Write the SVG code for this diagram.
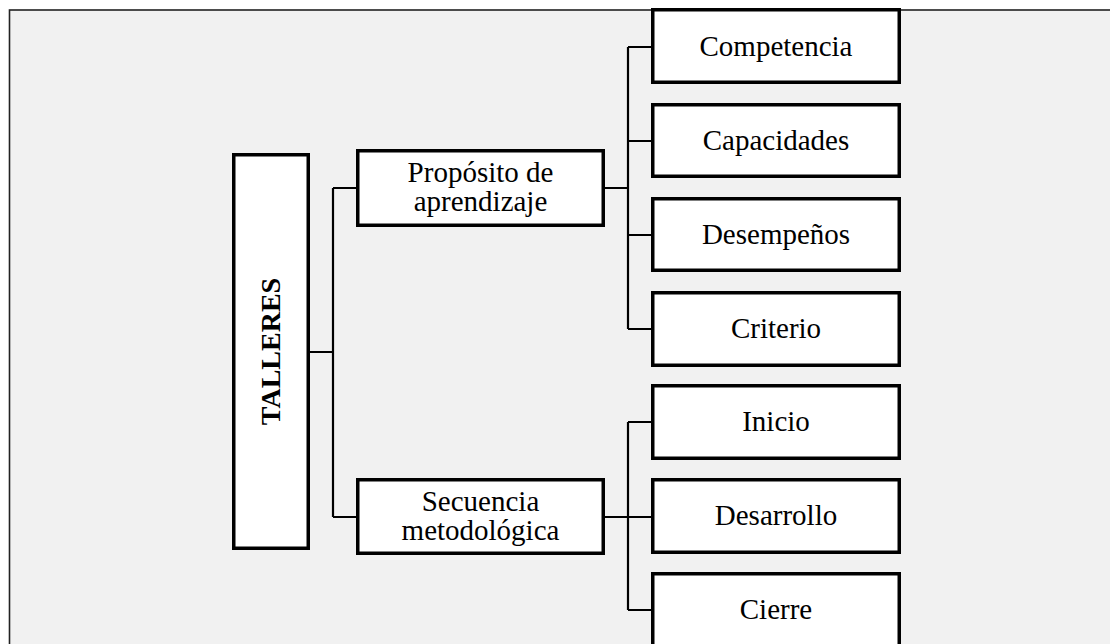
<svg xmlns="http://www.w3.org/2000/svg" width="1110" height="644" viewBox="0 0 1110 644">
<style>
.box{fill:#ffffff;stroke:#000000;stroke-width:3.5}
.ln{fill:none;stroke:#000000;stroke-width:2.2}
text{font-family:'Liberation Serif',serif;fill:#000000;text-anchor:middle}
.t{font-size:29px;font-weight:normal}
.tb{font-size:28px;font-weight:bold}
</style>
<rect x="0" y="0" width="1110" height="644" fill="#ffffff"/>
<rect x="9.5" y="10" width="1110" height="650" fill="#f1f1f1" stroke="#222222" stroke-width="1.6"/>
<g id="connectors">
<path class="ln" d="M310 352 H333 M333 188 V517 M333 188 H356 M333 517 H356"/>
<path class="ln" d="M605 188 H628 M628 47 V329 M628 47 H651 M628 141 H651 M628 235 H651 M628 329 H651"/>
<path class="ln" d="M605 517 H651 M628 422 V610 M628 422 H651 M628 610 H651"/>
</g>
<g id="talleres">
<rect class="box" x="233.75" y="154.75" width="74.5" height="393.5"/>
<text class="tb" transform="translate(280 351.5) rotate(-90)">TALLERES</text>
</g>
<g id="proposito">
<rect class="box" x="357.75" y="150.75" width="245.5" height="74.5"/>
<text class="t" x="480.5" y="182">Propósito de</text>
<text class="t" x="480.5" y="211">aprendizaje</text>
</g>
<g id="secuencia">
<rect class="box" x="357.75" y="479.75" width="245.5" height="73.5"/>
<text class="t" x="480.5" y="511">Secuencia</text>
<text class="t" x="480.5" y="540">metodológica</text>
</g>
<g id="competencia">
<rect class="box" x="652.75" y="9.75" width="246.5" height="72.5"/>
<text class="t" x="776" y="56">Competencia</text>
</g>
<g id="capacidades">
<rect class="box" x="652.75" y="104.75" width="246.5" height="71.5"/>
<text class="t" x="776" y="150">Capacidades</text>
</g>
<g id="desempenos">
<rect class="box" x="652.75" y="198.75" width="246.5" height="71.5"/>
<text class="t" x="776" y="244">Desempeños</text>
</g>
<g id="criterio">
<rect class="box" x="652.75" y="292.75" width="246.5" height="72.5"/>
<text class="t" x="776" y="338">Criterio</text>
</g>
<g id="inicio">
<rect class="box" x="652.75" y="385.75" width="246.5" height="72.5"/>
<text class="t" x="776" y="431">Inicio</text>
</g>
<g id="desarrollo">
<rect class="box" x="652.75" y="479.75" width="246.5" height="72.5"/>
<text class="t" x="776" y="525">Desarrollo</text>
</g>
<g id="cierre">
<rect class="box" x="652.75" y="573.75" width="246.5" height="80"/>
<text class="t" x="776" y="619">Cierre</text>
</g>
</svg>
